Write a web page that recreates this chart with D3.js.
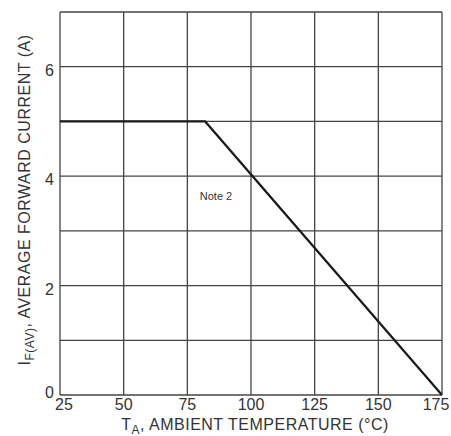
<!DOCTYPE html>
<html>
<head>
<meta charset="utf-8">
<script src="https://cdn.jsdelivr.net/npm/d3@7"></script>
<style>
  body { margin: 0; background: #fff; }
  svg text { font-family: "Liberation Sans", Arial, sans-serif; fill: #333; }
</style>
</head>
<body>
<div id="chart"></div>
<script>
// derating curve: current vs ambient temperature
var tempC   = [25, 82, 175];
var current = [5, 5, 0];
var xTicks  = [25, 50, 75, 100, 125, 150, 175];
var yGrid   = [0, 1, 2, 3, 4, 5, 6, 7];
var yLabels = [0, 2, 4, 6];

var W = 451, H = 436;
var m = { top: 12, right: 9, bottom: 41, left: 60 };

var svg = d3.select('#chart').append('svg')
  .attr('width', W).attr('height', H);

var x = d3.scaleLinear().domain([25, 175]).range([m.left, W - m.right]);
var y = d3.scaleLinear().domain([0, 7]).range([H - m.bottom, m.top]);

// grid
var g = svg.append('g').attr('stroke', '#444').attr('stroke-width', 1.3);
g.selectAll('line.v').data(xTicks).enter().append('line')
  .attr('x1', function (d) { return x(d); }).attr('x2', function (d) { return x(d); })
  .attr('y1', y(0)).attr('y2', y(7));
g.selectAll('line.h').data(yGrid).enter().append('line')
  .attr('y1', function (d) { return y(d); }).attr('y2', function (d) { return y(d); })
  .attr('x1', x(25)).attr('x2', x(175));

// curve
var line = d3.line()
  .x(function (d, i) { return x(tempC[i]); })
  .y(function (d) { return y(d); });
svg.append('path').datum(current)
  .attr('d', line)
  .attr('fill', 'none').attr('stroke', '#1a1a1a').attr('stroke-width', 2.2);

// tick labels
svg.append('g').selectAll('text').data(xTicks).enter().append('text')
  .attr('x', function (d, i) {
    var off = i === 0 ? 4 : (i === xTicks.length - 1 ? -6 : 0);
    return x(d) + off;
  })
  .attr('y', H - m.bottom + 15)
  .attr('text-anchor', 'middle')
  .style('font-size', '16px')
  .text(function (d) { return d; });

svg.append('g').selectAll('text').data(yLabels).enter().append('text')
  .attr('x', m.left - 6)
  .attr('y', function (d) { return y(d) + (d === 0 ? 3 : 9); })
  .attr('text-anchor', 'end')
  .style('font-size', '16px')
  .text(function (d) { return d; });

// axis titles
var xt = svg.append('text')
  .attr('x', 255)
  .attr('y', H - 6)
  .attr('text-anchor', 'middle')
  .style('font-size', '16px')
  .style('letter-spacing', '0.5px');
xt.append('tspan').text('T');
xt.append('tspan').attr('dy', 4).style('font-size', '12px').text('A');
xt.append('tspan').attr('dy', -4).text(', AMBIENT TEMPERATURE (°C)');

var yt = svg.append('text')
  .attr('transform', 'translate(30,200) rotate(-90)')
  .attr('text-anchor', 'middle')
  .style('font-size', '16px')
  .style('letter-spacing', '0.5px');
yt.append('tspan').text('I');
yt.append('tspan').attr('dy', 4).style('font-size', '12px').text('F(AV)');
yt.append('tspan').attr('dy', -4).text(', AVERAGE FORWARD CURRENT (A)');

// note
svg.append('text')
  .attr('x', 216).attr('y', 200)
  .attr('text-anchor', 'middle')
  .style('font-size', '11px')
  .text('Note 2');
</script>
</body>
</html>
